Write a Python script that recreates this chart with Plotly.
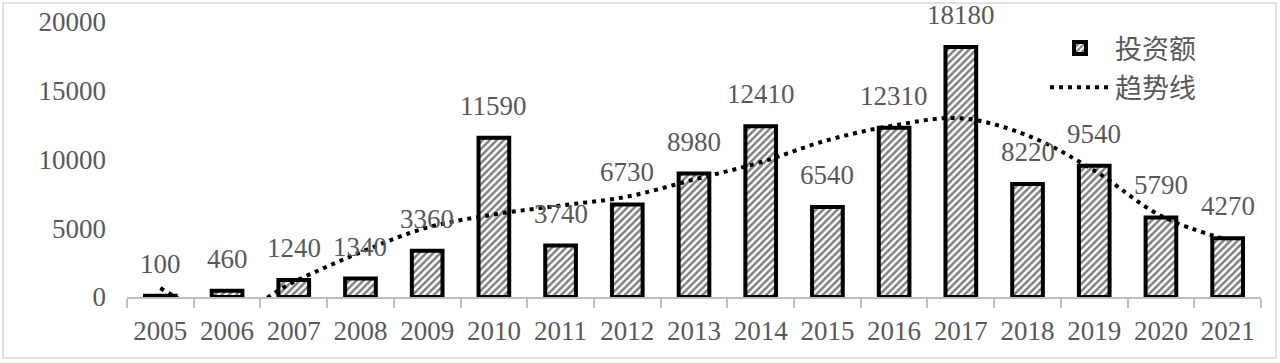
import plotly.graph_objects as go

years = [str(y) for y in range(2005, 2022)]
investment = [100, 460, 1240, 1340, 3360, 11590, 3740, 6730, 8980, 12410,
              6540, 12310, 18180, 8220, 9540, 5790, 4270]
trend = [650, -1300, 1100, 3250, 5050, 6000, 6650, 7300, 8540, 9800,
         11400, 12480, 13000, 11750, 9200, 5900, 4150]
bar_name = "投资额"
trend_name = "趋势线"

W, H = 1280, 363
L, R, T, B = 127, 19, 22, 66
GRAY = "#595959"
FONT = "Times New Roman, Liberation Serif, Noto Sans CJK SC"
FS = 27

fig = go.Figure()
fig.add_trace(go.Bar(
    x=years, y=investment, name=bar_name, width=0.46, legendgroup="a",
    marker=dict(color="white",
                line=dict(color="black", width=4),
                pattern=dict(shape="/", fgcolor="black", bgcolor="white",
                             size=5, solidity=0.5)),
))
fig.add_trace(go.Scatter(
    x=years, y=trend, name=trend_name, mode="lines", legendgroup="b",
    line=dict(color="black", width=4, dash="4px,5px", shape="spline", smoothing=1.0),
))

for i, v in enumerate(investment):
    fig.add_annotation(x=i, y=v, text=str(v), showarrow=False,
                       yanchor="bottom", yshift=15,
                       font=dict(family=FONT, size=FS, color=GRAY))

pw = W - L - R
ph = H - T - B
fig.add_shape(type="rect", xref="paper", yref="paper",
              x0=(3 - L) / pw, x1=(W - 4 - L) / pw,
              y0=-(H - 5 - (H - B)) / ph, y1=1 + (T - 3) / ph,
              line=dict(color="#d9d9d9", width=1.5), fillcolor="rgba(0,0,0,0)",
              layer="below")

fig.update_layout(
    width=W, height=H,
    margin=dict(l=L, r=R, t=T, b=B, autoexpand=False),
    paper_bgcolor="white", plot_bgcolor="white",
    font=dict(family=FONT, size=FS, color=GRAY),
    showlegend=True,
    legend=dict(x=(1045 - L) / pw, y=1 + (T - 24) / ph, xanchor="left", yanchor="top",
                bgcolor="rgba(0,0,0,0)", font=dict(size=FS, color=GRAY),
                itemwidth=60, tracegroupgap=1),
    bargap=0.5,
)
fig.update_xaxes(type="category", range=[-0.5, len(years) - 0.5],
                 showline=True, linecolor="#bfbfbf", linewidth=1.5,
                 ticks="outside", tickson="boundaries", ticklen=9, tickcolor="#bfbfbf",
                 tickwidth=1.5, showgrid=False, tickangle=0, automargin=False,
                 ticklabelstandoff=9,
                 tickfont=dict(family=FONT, size=FS, color=GRAY))
fig.update_yaxes(range=[0, 20000], tickvals=[0, 5000, 10000, 15000, 20000],
                 tickformat="d", automargin=False,
                 showgrid=False, showline=False, zeroline=False,
                 ticklabelstandoff=20,
                 tickfont=dict(family=FONT, size=FS, color=GRAY))

fig.write_html("out.html", config={"displayModeBar": False},
               post_script="document.body.style.margin='0';document.body.style.overflow='hidden';")
